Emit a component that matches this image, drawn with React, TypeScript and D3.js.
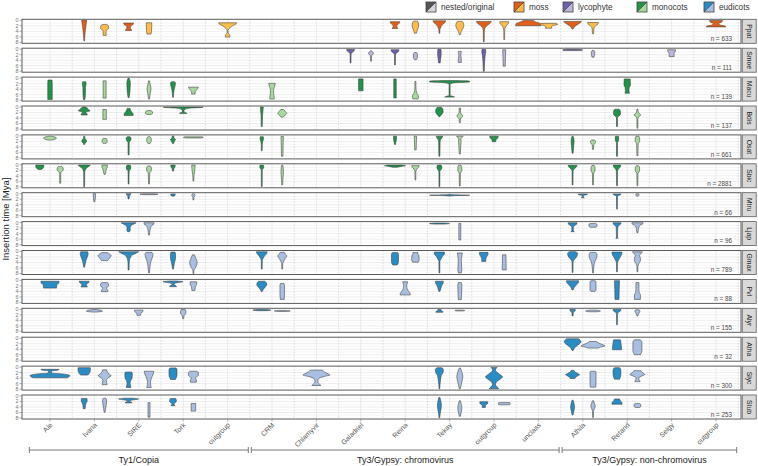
import React from "react";
import * as d3 from "d3";

// ---------- data ----------
const clades = ["Ale", "Ivana", "SIRE", "Tork", "out1", "CRM", "Chlamyvir", "Galadriel", "Reina", "Tekay", "out2", "unclass", "Athila", "Retand", "Selgy", "out3"];
const cladeLabels = ["Ale", "Ivana", "SIRE", "Tork", "outgroup", "CRM", "Chlamyvir", "Galadriel", "Reina", "Tekay", "outgroup", "unclass", "Athila", "Retand", "Selgy", "outgroup"];
const species = ["Ppat", "Smoe", "Macu", "Bdis", "Osat", "Sbic", "Mtru", "Ljap", "Gmax", "Pvl", "Alyr", "Atha", "Slyc", "Stub"];
const speciesGroup = ["moss", "lycophyte", "monocots", "monocots", "monocots", "monocots", "eudicots", "eudicots", "eudicots", "eudicots", "eudicots", "eudicots", "eudicots", "eudicots"];
const counts = [633, 111, 139, 137, 661, 2881, 66, 96, 789, 88, 155, 32, 300, 253];
const groups = ["moss", "lycophyte", "monocots", "eudicots"];
const darkColors = ["#e0601a", "#6f5fa8", "#23934a", "#2b8cc4"];
const lightColors = ["#fdbd4d", "#b9b8dc", "#a6d99c", "#a9bfe2"];
const superfamilies = ["Ty1/Copia", "Ty3/Gypsy: chromovirus", "Ty3/Gypsy: non-chromovirus"];
const superfamilyFrom = ["Ale", "CRM", "Athila"];
const superfamilyTo = ["out1", "unclass", "out3"];
const yTicks = [0, 2, 4, 6, 8];

// violins: [clade, n = nested / o = original, density profile as (insertion time, width) pairs]
type V = [string, string, number[]];
const ppat: V[] = [
  ["Ivana", "n", [0, 5, 2, 3.5, 5, 1.5, 7.5, 0.6]],
  ["Ivana", "o", [1.5, 4, 2, 7.5, 3, 8, 3.6, 4, 4, 3, 5.5, 3]],
  ["SIRE", "n", [1, 10, 1.5, 9, 2.2, 3.5, 3, 3.5, 3.4, 6, 3.7, 6]],
  ["SIRE", "o", [0.9, 5.5, 2, 5.5, 4, 5, 5, 4]],
  ["out1", "o", [0.9, 18, 1.3, 17, 2, 10, 3, 3, 3.8, 0.8, 4.6, 1, 5.4, 4.5, 6.1, 4.5]],
  ["Reina", "n", [0.5, 9.5, 1, 9, 1.6, 5, 2.2, 3.5, 2.7, 5, 3, 5.5]],
  ["Reina", "o", [0.3, 4, 1, 6, 2, 6.5, 3, 5, 4, 3, 4.7, 2]],
  ["Tekay", "n", [0.2, 13, 0.8, 11, 1.8, 5, 2.9, 2, 3.5, 1, 4.7, 0.8]],
  ["Tekay", "o", [0.4, 5, 1, 7, 2, 8, 3, 6, 4, 3, 5.3, 0.8]],
  ["out2", "n", [0.4, 15, 1, 13, 2, 6, 2.9, 2, 4, 1, 7.8, 0.8]],
  ["out2", "o", [0.5, 9, 1.2, 8, 2, 4, 2.9, 1.5, 4, 0.8, 7, 0.8]],
  ["unclass", "n", [0.1, 10, 0.5, 14, 1.2, 24, 1.8, 25, 2, 25]],
  ["unclass", "o", [1.1, 16, 1.5, 18, 1.9, 9, 2.3, 6, 2.9, 6]],
  ["Athila", "n", [0.4, 18, 0.8, 16, 1.5, 10, 2.3, 4, 3.2, 0.8]],
  ["Athila", "o", [0.8, 11, 1.3, 10, 2, 5, 2.8, 2, 3.5, 1.5, 4.9, 1.2]],
  ["out3", "n", [0.1, 13, 0.6, 12, 1.2, 5, 1.7, 8, 2.1, 18, 2.4, 20]],
];
const smoe: V[] = [
  ["Galadriel", "n", [0.1, 8, 0.6, 7, 1.2, 3, 1.8, 1, 5, 0.8]],
  ["Galadriel", "o", [0.6, 1, 1.5, 5, 2.4, 1.5, 3, 1, 4.4, 0.8]],
  ["Reina", "n", [0.2, 8, 0.8, 7, 1.5, 2.5, 2, 1, 5.7, 0.8]],
  ["Reina", "o", [1.2, 2, 1.8, 4, 3, 4, 3.8, 2]],
  ["Tekay", "n", [0, 3, 1, 3.5, 2, 3.5, 3.5, 2.5, 5, 1.5]],
  ["Tekay", "o", [0.8, 3, 2.5, 2, 3.5, 3, 4.8, 3]],
  ["out2", "n", [0, 3.5, 1, 4, 2, 3, 5, 1.5, 8, 1]],
  ["out2", "o", [0.2, 3, 3, 2.5, 6.2, 2]],
  ["Athila", "n", [0.05, 12, 0.25, 20, 0.5, 18]],
  ["Athila", "o", [0.5, 2, 1.5, 3.5, 2.9, 2]],
  ["Selgy", "o", [0.2, 8, 0.8, 7.5, 1.5, 5, 2.7, 5]],
];
const macu: V[] = [
  ["Ale", "n", [0.7, 4, 2, 4.5, 7.8, 4.5]],
  ["Ivana", "n", [1.3, 3, 2, 4, 3.5, 2.5, 5, 2.5, 7.8, 1.5]],
  ["Ivana", "o", [1, 3, 7.3, 3]],
  ["SIRE", "n", [0, 1, 1, 3, 2, 3.5, 4, 3, 6, 2, 7.1, 1]],
  ["SIRE", "o", [1, 1, 2.5, 2.5, 4, 4, 5.5, 2.5, 7.6, 1]],
  ["Tork", "n", [1.3, 3, 1.8, 5, 3, 4, 4.5, 2, 7, 0.8]],
  ["Tork", "o", [3.3, 10, 3.8, 9, 4.5, 5, 5, 3.5, 5.8, 3.5]],
  ["CRM", "o", [1.9, 6.5, 2.5, 6, 3.5, 4, 4.5, 3, 6, 3.5, 7, 4.5, 7.6, 4.5]],
  ["Galadriel", "n", [0.3, 4.5, 4.6, 4.5]],
  ["Reina", "n", [0.3, 2.5, 7.2, 2.5]],
  ["Reina", "o", [1.2, 1, 3, 1, 4.5, 1.5, 5.5, 3, 6.5, 6, 7, 6, 7.6, 5]],
  ["Tekay", "n", [0.9, 12, 1.1, 40, 1.4, 40, 1.7, 10, 2.2, 1, 6.3, 1, 6.6, 6, 6.9, 10]],
  ["Retand", "n", [0.3, 6, 2.5, 6.5, 3.5, 4, 4.5, 3.5, 5.5, 4.5]],
];
const bdis: V[] = [
  ["Ivana", "n", [0, 3, 0.5, 7, 1, 9, 1.4, 12, 1.8, 4, 2.2, 3, 2.5, 6, 2.9, 6]],
  ["Ivana", "o", [0.9, 3.5, 4.5, 3.5]],
  ["SIRE", "n", [0.5, 3, 1.2, 4, 2, 7, 2.5, 9, 3.1, 9]],
  ["SIRE", "o", [1.3, 3, 1.8, 7, 2.3, 7, 2.7, 4]],
  ["Tork", "n", [0, 40, 0.15, 38, 0.4, 14, 0.8, 4, 1.3, 1.5, 1.9, 2, 2.2, 7, 2.4, 7]],
  ["CRM", "n", [0, 3, 1, 2.5, 3, 1.5, 7.1, 1]],
  ["CRM", "o", [0.9, 3, 1.6, 6, 2.3, 9, 2.9, 6, 3.7, 2]],
  ["Tekay", "n", [0.1, 4, 0.8, 7, 1.8, 7.5, 2.6, 5, 3.5, 1]],
  ["Tekay", "o", [0.4, 1.5, 2, 1.5, 2.7, 4, 3.3, 6, 3.9, 3, 4.5, 1.2, 5.7, 1]],
  ["Retand", "n", [0.8, 4, 1.3, 6.5, 2.5, 7, 3.3, 4, 3.8, 1, 7.1, 1]],
  ["Retand", "o", [0.8, 1, 2, 2, 2.9, 6.5, 3.7, 2, 4.5, 1, 7.7, 1]],
];
const osat: V[] = [
  ["Ale", "o", [0.1, 4, 0.5, 11, 0.8, 13, 1.2, 10, 1.5, 4]],
  ["Ivana", "n", [0.1, 1, 1, 2, 1.6, 4.5, 2.2, 4.5, 2.7, 1.5, 3.1, 1]],
  ["Ivana", "o", [0.9, 3, 1.5, 5, 2.2, 5, 2.7, 3]],
  ["SIRE", "n", [0.3, 3, 0.9, 5, 1.7, 4, 2.4, 1.2, 6.9, 1]],
  ["SIRE", "o", [0.3, 2, 0.9, 4.5, 1.8, 4.5, 2.8, 2]],
  ["Tork", "n", [0, 1.5, 0.8, 2, 1.3, 5, 1.9, 3, 2.8, 1]],
  ["Tork", "o", [0.35, 18, 0.6, 20, 0.75, 14]],
  ["CRM", "n", [0.3, 3, 1, 3.5, 2, 2, 3, 1, 5.4, 0.8]],
  ["CRM", "o", [0.2, 2.5, 2, 2, 7.4, 1.5]],
  ["Reina", "n", [0.1, 3, 1, 3, 2, 2, 3.1, 1]],
  ["Reina", "o", [0.1, 2.5, 2, 2, 5.1, 1.5]],
  ["Tekay", "n", [0.1, 6.5, 0.6, 5.5, 1.2, 3, 1.8, 1.5, 7.4, 1]],
  ["Tekay", "o", [0.1, 6.5, 0.5, 5, 0.9, 2, 2, 2.5, 3.5, 2, 6.6, 1]],
  ["out2", "n", [0.1, 8.5, 0.7, 8, 1.3, 4.5, 2.1, 3.5]],
  ["Athila", "n", [0.1, 1, 1, 2.5, 2, 3, 4, 2, 6.3, 1]],
  ["Athila", "o", [1.5, 3, 2, 5, 2.8, 4, 3.2, 1.5, 4.9, 1]],
  ["Retand", "n", [0.1, 3, 0.8, 3.5, 1.8, 3, 2.5, 1, 7.4, 1]],
  ["Retand", "o", [0.1, 3, 1, 4.5, 2, 4.5, 2.8, 1.5, 7.2, 1]],
];
const sbic: V[] = [
  ["Ale", "n", [0.1, 8, 0.8, 8, 1.3, 6, 1.7, 3]],
  ["Ale", "o", [0.6, 3, 1.2, 6, 2, 6, 2.6, 2, 3.2, 1, 6.7, 1]],
  ["Ivana", "n", [0.1, 12, 0.5, 10, 1, 6, 1.9, 2, 3, 1, 8, 0.8]],
  ["Ivana", "o", [0.1, 5.5, 0.8, 5.5, 1.5, 3.5, 2.5, 2.5, 3.5, 1]],
  ["SIRE", "n", [0.1, 3, 0.8, 4.5, 1.6, 4, 2.2, 1, 7, 0.8]],
  ["SIRE", "o", [0.4, 2.5, 1.2, 5, 2.2, 4.5, 2.9, 1.5, 7, 0.8]],
  ["Tork", "n", [0.1, 4.5, 0.8, 4, 1.3, 2, 2.3, 1]],
  ["Tork", "o", [0.1, 3.5, 1.5, 3, 3, 2, 3.8, 1.2, 5.9, 0.8]],
  ["CRM", "n", [0.1, 3, 0.6, 4, 1.2, 3.5, 1.8, 1, 7.9, 0.8]],
  ["CRM", "o", [0.1, 1, 1, 2, 2.5, 2.5, 5, 1.5, 7.3, 1]],
  ["Reina", "n", [0.1, 14, 0.35, 21, 0.6, 12, 0.9, 4]],
  ["Reina", "o", [0.3, 7.5, 0.9, 6.5, 1.5, 3, 2.3, 1, 5.5, 0.8]],
  ["Tekay", "n", [0.1, 3.5, 0.8, 5, 1.6, 4, 2.3, 1, 8, 0.8]],
  ["Tekay", "o", [0.1, 2, 1, 4, 2.2, 4, 3, 1.2, 7.7, 0.8]],
  ["Athila", "n", [0.2, 9, 0.7, 8, 1.4, 4, 2.2, 1, 7.3, 0.8]],
  ["Athila", "o", [0.2, 2, 1, 4, 2.2, 4, 3, 1.2, 7.3, 0.8]],
  ["Retand", "n", [0.1, 7.5, 0.7, 7, 1.5, 3, 2.3, 1.2, 7.6, 0.8]],
  ["Retand", "o", [0.3, 2, 1.2, 4.5, 2.3, 4, 3.1, 1.2, 7.6, 0.8]],
];
const mtru: V[] = [
  ["Ivana", "o", [0, 2.5, 1.5, 2, 2.9, 1]],
  ["SIRE", "n", [0, 4.5, 0.4, 4, 0.8, 1.5, 1.9, 1]],
  ["SIRE", "o", [0.05, 10, 0.2, 18, 0.35, 10]],
  ["Tork", "n", [0.1, 4.5, 0.6, 4, 0.9, 2]],
  ["Tork", "o", [0, 1, 0.5, 3.5, 1, 2, 1.4, 1, 2.3, 0.8]],
  ["Tekay", "n", [0.25, 2, 0.4, 10, 0.55, 40, 0.7, 10, 0.85, 2]],
  ["Athila", "n", [0.1, 9, 0.3, 9, 0.6, 2, 1.2, 1, 1.5, 3]],
  ["Retand", "n", [0.1, 8, 0.35, 7, 0.7, 2, 1.2, 1, 5.6, 0.8]],
  ["Retand", "o", [0.05, 2, 0.4, 3.5, 0.9, 1.5]],
];
const ljap: V[] = [
  ["SIRE", "n", [0.05, 15, 0.3, 13, 0.8, 7, 1.3, 4, 2, 3, 2.7, 3.5, 3.3, 2]],
  ["SIRE", "o", [0.05, 10, 0.5, 10, 1, 6, 2, 3, 2.7, 2, 4.5, 1]],
  ["Tekay", "n", [0.15, 10, 0.35, 20, 0.55, 10]],
  ["Tekay", "o", [0.3, 2, 6.3, 2]],
  ["Athila", "n", [0.05, 9, 0.6, 8, 1.2, 3, 1.7, 1.5, 3, 1.5, 3.3, 3.5]],
  ["Athila", "o", [0.3, 5, 0.6, 8, 1.3, 8, 1.7, 5]],
  ["Retand", "n", [0.05, 8, 0.6, 7, 1.2, 3, 1.8, 1.5, 5.3, 1, 5.7, 2.5]],
  ["Retand", "o", [0.05, 11, 0.4, 11, 0.9, 6, 1.6, 3, 2.5, 2, 3.7, 1]],
];
const gmax: V[] = [
  ["Ivana", "n", [0.1, 7, 0.8, 8, 1.6, 7, 3, 4, 4.5, 2, 5.7, 0.8]],
  ["Ivana", "o", [0.4, 5, 0.9, 10, 1.5, 13, 2.2, 11, 2.8, 8, 3.3, 6]],
  ["SIRE", "n", [0.1, 20, 0.5, 16, 1.2, 8, 2, 4, 3, 2, 4, 1.2, 6.7, 1]],
  ["SIRE", "o", [0.3, 6, 1, 8, 2, 7, 3.5, 4, 5.5, 2, 7.8, 0.8]],
  ["Tork", "n", [0.2, 4, 1, 5, 2.5, 5, 4, 3, 5.5, 1.5, 6.4, 0.8]],
  ["Tork", "o", [1.2, 2, 2.5, 5, 4, 7.5, 5.2, 6, 6.2, 3, 6.8, 1, 8, 0.8]],
  ["CRM", "n", [0.1, 11, 0.6, 10, 1.5, 6, 2.5, 2.5, 3.3, 1, 6.4, 0.8]],
  ["CRM", "o", [0.3, 4, 0.9, 6, 1.6, 9, 2.5, 6, 3.5, 3, 4.5, 1, 6.4, 0.8]],
  ["Reina", "n", [0.4, 5, 1, 7, 3.5, 7, 4.5, 6, 4.9, 4]],
  ["Reina", "o", [0.4, 5, 0.9, 5, 1.5, 7, 3, 7.5, 3.9, 5.5]],
  ["Tekay", "n", [0.2, 10, 0.9, 10, 1.8, 6, 2.8, 3, 3.6, 1, 7.8, 0.8]],
  ["Tekay", "o", [0.5, 5, 1.2, 4.5, 3, 3, 5, 3.5, 6.5, 4, 7.8, 3]],
  ["out2", "n", [0.3, 8.5, 1, 8.5, 2, 5.5, 3, 4, 3.6, 4]],
  ["out2", "o", [1.2, 3.5, 6.7, 4]],
  ["Athila", "n", [0.05, 6, 0.6, 10, 1.6, 9, 2.6, 5, 3.4, 1.5, 4, 1, 7.6, 0.8]],
  ["Athila", "o", [0.3, 5, 1.2, 8, 2.2, 7.5, 3.5, 4, 5, 2, 7.8, 0.8]],
  ["Retand", "n", [0.2, 10, 1, 9.5, 2, 6.5, 3, 3.5, 4.2, 1, 7.4, 0.8]],
  ["Retand", "o", [0.1, 10, 0.6, 8, 1.5, 4, 2.4, 6, 3.3, 6, 4.4, 3, 5.5, 1, 7.4, 0.8]],
];
const pvl: V[] = [
  ["Ale", "n", [0.3, 18, 0.9, 18, 1.4, 14, 2.8, 13]],
  ["Ivana", "n", [0.3, 10, 0.8, 9, 1.5, 4.5, 2, 5, 2.4, 6.5]],
  ["Ivana", "o", [0.8, 5, 1.3, 8, 2, 8, 2.5, 4.5, 3, 4, 3.6, 6.5, 4.1, 6.5]],
  ["Tork", "n", [0.2, 6, 0.45, 20, 0.7, 14, 1, 4, 1.6, 2, 2, 6, 2.3, 7]],
  ["Tork", "o", [0.5, 6.5, 1.5, 6.5, 2.2, 4, 3, 3.5, 3.7, 3]],
  ["CRM", "n", [0.3, 6, 0.8, 9, 1.6, 10, 2.4, 7, 3.3, 3, 4.1, 0.8]],
  ["CRM", "o", [1.1, 3.5, 1.8, 4.5, 5, 4.5, 6.9, 4]],
  ["Reina", "o", [0.5, 5, 1, 4, 2, 3, 3, 4, 4, 7, 4.9, 10, 5.3, 10]],
  ["Tekay", "n", [0.3, 8, 1, 7.5, 1.8, 5, 2.8, 3, 3.5, 2, 4, 1]],
  ["Tekay", "o", [0.8, 3, 2, 4, 5, 3.5, 7, 3]],
  ["Athila", "n", [0.1, 12, 0.7, 12, 1.5, 8, 2.5, 3.5, 3.5, 1]],
  ["Athila", "o", [0.1, 4, 0.5, 6, 3.5, 6, 4, 4]],
  ["Retand", "n", [0.1, 5, 3, 4.5, 6.9, 4]],
  ["Retand", "o", [0.8, 3, 3, 3, 4.4, 3.5, 5.2, 6, 6.9, 6]],
];
const alyr: V[] = [
  ["Ivana", "o", [0.1, 4, 0.4, 14, 0.7, 16, 1, 4]],
  ["SIRE", "o", [0.3, 8.5, 0.9, 8, 1.4, 4, 2.2, 3.5]],
  ["Tork", "o", [0.1, 4, 0.8, 5.5, 1.6, 5, 2.2, 2, 3.4, 1]],
  ["CRM", "n", [0.1, 10, 0.3, 18, 0.5, 8]],
  ["CRM", "o", [0.4, 8, 0.6, 16, 0.8, 8]],
  ["Tekay", "n", [0.05, 3, 0.5, 4, 0.9, 7, 1.1, 7]],
  ["Tekay", "o", [0.3, 6, 0.45, 10, 0.6, 6]],
  ["Athila", "n", [0.1, 5.5, 0.6, 5, 1, 1.5, 2.4, 1]],
  ["Athila", "o", [0.3, 6, 0.6, 15, 0.9, 8]],
  ["Retand", "n", [0.05, 8, 0.6, 7, 1.2, 2, 2, 1, 5.6, 0.8]],
  ["Retand", "o", [0.2, 3.5, 0.8, 5, 1.4, 3, 2.4, 1]],
];
const atha: V[] = [
  ["Athila", "n", [0.2, 12, 0.7, 15, 1.3, 17, 2, 14, 3, 7, 3.8, 3, 4.5, 1]],
  ["Athila", "o", [1.2, 7, 1.8, 12, 2.4, 20, 2.8, 24, 3.2, 16, 3.6, 10]],
  ["Retand", "n", [0.6, 7, 2, 8, 3.5, 9, 4.2, 9]],
  ["Retand", "o", [0.6, 6, 1.5, 9, 4.5, 9, 6, 6]],
];
const slyc: V[] = [
  ["Ale", "n", [0.8, 18, 1.1, 16, 1.4, 3, 2.1, 3, 2.5, 26, 3.1, 40, 3.5, 38, 3.9, 34]],
  ["Ivana", "n", [0.2, 12, 1, 12.5, 2, 11, 2.6, 9, 2.9, 6]],
  ["Ivana", "o", [1, 4, 1.6, 5, 2.4, 8, 3.1, 13, 3.8, 8, 4.8, 3.5, 5.6, 4, 6.4, 5]],
  ["SIRE", "n", [1.8, 6.5, 2.5, 7.5, 4, 7, 5, 4, 6, 3, 6.8, 4, 7.4, 4.5]],
  ["SIRE", "o", [1.5, 9.5, 2.2, 9, 3.5, 6, 4.5, 4, 5.7, 3, 6.7, 3.5, 7.4, 4.5]],
  ["Tork", "n", [0.3, 6, 0.9, 8, 2.5, 8, 3.5, 7.5, 4, 6, 4.5, 5]],
  ["Tork", "o", [1.5, 6, 2, 10, 3, 10, 3.6, 6, 4.1, 4, 4.6, 6, 5.5, 6]],
  ["Chlamyvir", "o", [1.1, 12, 1.8, 16, 2.5, 24, 2.9, 27, 3.3, 18, 4, 6, 4.9, 3, 5.5, 3, 6.1, 6, 6.7, 9]],
  ["Tekay", "n", [0.2, 5, 0.9, 8, 1.9, 7.5, 3, 4, 5, 2, 7.9, 0.8]],
  ["Tekay", "o", [0.3, 1, 1.5, 3.5, 3.5, 6, 5.5, 4, 7.9, 1]],
  ["out2", "n", [0.1, 6.5, 0.5, 4, 1.2, 3, 2, 7, 3, 14, 3.6, 17, 4.4, 12, 5.4, 5, 6.3, 3, 7, 5, 7.5, 8, 7.9, 10]],
  ["Athila", "n", [1.2, 3, 1.8, 5, 2.4, 11, 2.8, 14, 3.2, 10, 3.7, 6, 4.1, 5]],
  ["Athila", "o", [1.5, 5, 2, 6, 6.5, 6, 7.3, 5]],
  ["Retand", "n", [0.2, 5, 0.8, 7.5, 2, 8, 3.5, 7, 4.4, 5]],
  ["Retand", "o", [1.3, 7, 2, 10, 2.7, 15, 3.2, 9, 3.8, 3, 4.5, 3, 5, 5, 5.3, 5]],
];
const stub: V[] = [
  ["Ivana", "n", [0.9, 5.5, 1.8, 6, 2.5, 4, 3.5, 2.5, 4.6, 2]],
  ["Ivana", "o", [0.8, 2.5, 1.5, 4, 3, 3.5, 4.5, 2, 5.9, 1]],
  ["SIRE", "n", [0.8, 8, 1.1, 20, 1.4, 10, 1.8, 2, 2.2, 5, 2.5, 7]],
  ["SIRE", "o", [2.4, 2, 7.7, 2]],
  ["Tork", "n", [0.9, 5, 1.6, 7, 2.3, 5.5, 2.9, 2, 3.5, 4]],
  ["Tork", "o", [2.7, 4.5, 5.5, 4.5]],
  ["Tekay", "n", [0.5, 1, 2, 3, 3.5, 4, 5, 3, 6.5, 1.5, 7.9, 0.8]],
  ["Tekay", "o", [1.7, 1, 3, 3, 4.2, 4, 5.8, 3, 7.4, 1]],
  ["out2", "n", [2.1, 8, 2.6, 8, 3.3, 3.5, 4.2, 3]],
  ["out2", "o", [2.4, 11, 2.8, 12, 3.2, 11]],
  ["Athila", "n", [1.5, 1, 2.8, 3, 4, 4, 5.5, 2.5, 6.9, 0.8]],
  ["Athila", "o", [1.7, 1, 2.8, 3, 3.6, 4.5, 4.5, 3, 5.5, 1, 7.8, 0.8]],
  ["Retand", "n", [1.1, 5, 1.8, 7, 2.4, 10, 3, 10]],
  ["Retand", "o", [2.7, 4, 3, 6.5, 3.9, 6.5, 4.2, 4]],
];
const violinsBySpecies: V[][] = [ppat, smoe, macu, bdis, osat, sbic, mtru, ljap, gmax, pvl, alyr, atha, slyc, stub];

// ---------- layout ----------
const W = 758, H = 466;
const panelLeft = 22, panelRight = 741;
const firstTop = 19.3, panelH = 24, pitch = 28.9;
const FONT = "'Liberation Sans', Arial, Helvetica, sans-serif";

export default function App() {
  const x = d3.scalePoint<string>().domain(clades).range([50, 716]);
  const step = x.step();
  const wScale = d3.scaleLinear().domain([0, 44.4]).range([0, step]);
  const dodge = step * 0.23;
  const lastBottom = firstTop + (species.length - 1) * pitch + panelH;

  const panels = species.map((sp, i) => {
    const top = firstTop + i * pitch;
    const bottom = top + panelH;
    const y = d3.scaleLinear().domain([0, 8]).range([top + 1, bottom - 1]);
    const gi = groups.indexOf(speciesGroup[i]);
    const vs = violinsBySpecies[i];
    const grid: React.ReactNode[] = [];
    for (let v = 1; v < 8; v++) {
      grid.push(<line key={"h" + v} x1={panelLeft} x2={panelRight} y1={y(v)} y2={y(v)} stroke={v % 2 === 0 ? "#e0e0e0" : "#efefef"} strokeWidth={0.6} />);
    }
    clades.forEach((c, ci) => {
      grid.push(<line key={"vc" + ci} x1={x(c)!} x2={x(c)!} y1={top} y2={bottom} stroke="#e4e4e4" strokeWidth={0.7} />);
      const b = x(c)! + step / 2;
      if (b < panelRight) grid.push(<line key={"vb" + ci} x1={b} x2={b} y1={top} y2={bottom} stroke="#c4c4c4" strokeWidth={0.6} strokeDasharray="1.5,1.5" />);
    });
    const marks = vs.map((v, k) => {
      const [clade, t, prof] = v;
      const both = vs.some((o) => o[0] === clade && o[1] !== t);
      const cx = x(clade)! + (both ? (t === "n" ? -dodge : dodge) : 0);
      const pts: [number, number][] = [];
      for (let j = 0; j < prof.length; j += 2) pts.push([prof[j], prof[j + 1]]);
      const area = d3
        .area<[number, number]>()
        .y((d) => y(d[0]))
        .x0((d) => cx - wScale(d[1]) / 2)
        .x1((d) => cx + wScale(d[1]) / 2)
        .curve(d3.curveMonotoneY);
      return (
        <path key={"v" + k} d={area(pts) || ""} fill={t === "n" ? darkColors[gi] : lightColors[gi]} stroke="#3a3a3a" strokeWidth={0.55} strokeLinejoin="round" />
      );
    });
    return (
      <g key={sp}>
        <rect x={panelLeft} y={top} width={panelRight - panelLeft} height={panelH} fill="#fff" />
        {grid}
        {marks}
        <rect x={panelLeft} y={top} width={panelRight - panelLeft} height={panelH} fill="none" stroke="#5a5a5a" strokeWidth={1} />
        {yTicks.map((tv) => (
          <g key={"yt" + tv}>
            <line x1={panelLeft - 2.5} x2={panelLeft} y1={y(tv)} y2={y(tv)} stroke="#777" strokeWidth={0.6} />
            <text x={panelLeft - 3.5} y={y(tv) + 1.9} fontSize={5.4} fill="#777" textAnchor="end" fontFamily={FONT}>{tv}</text>
          </g>
        ))}
        <text x={732} y={bottom - 2.2} fontSize={6.3} fill="#4a4a4a" textAnchor="end" fontFamily={FONT}>{"n = " + counts[i]}</text>
        <rect x={panelRight + 1.2} y={top} width={14} height={panelH} fill="#d9d9d9" stroke="#5a5a5a" strokeWidth={0.8} />
        <text transform={`translate(${panelRight + 8.2},${top + panelH / 2}) rotate(90)`} fontSize={6.8} fill="#222" textAnchor="middle" dominantBaseline="central" fontFamily={FONT}>{sp}</text>
      </g>
    );
  });

  // legend
  const legendItems = ["nested/original", ...groups];
  const legendX = [426, 514, 563, 637, 704];
  const legendDark = ["#555555", ...darkColors];
  const legendLight = ["#d4d4d4", ...lightColors];

  const bracketY = 450;
  return (
    <svg width={W} height={H} style={{ display: "block", position: "absolute", left: 0, top: 0 }}>
      <rect width={W} height={H} fill="#fff" />
      {legendItems.map((lab, i) => (
        <g key={lab} transform={`translate(${legendX[i]},2)`}>
          <polygon points="0,0 10,0 0,10" fill={legendDark[i]} />
          <polygon points="10,0 10,10 0,10" fill={legendLight[i]} />
          <line x1={0} y1={10} x2={10} y2={0} stroke="#333" strokeWidth={0.7} />
          <rect x={0} y={0} width={10} height={10} fill="none" stroke="#444" strokeWidth={0.8} />
          <text x={15} y={8.3} fontSize={8.2} fill="#333" fontFamily={FONT}>{lab}</text>
        </g>
      ))}
      {panels}
      {clades.map((c, ci) => (
        <g key={"xt" + c}>
          <line x1={x(c)!} x2={x(c)!} y1={lastBottom} y2={lastBottom + 2.5} stroke="#777" strokeWidth={0.6} />
          <text transform={`translate(${x(c)! + 3},${lastBottom + 6.5}) rotate(-45)`} fontSize={7} fill="#555" textAnchor="end" fontFamily={FONT}>{cladeLabels[ci]}</text>
        </g>
      ))}
      {superfamilies.map((sf, i) => {
        const x1 = x(superfamilyFrom[i])! - step / 2 + 1.5;
        const x2 = x(superfamilyTo[i])! + step / 2 - 1.5;
        return (
          <g key={sf}>
            <line x1={x1} x2={x2} y1={bracketY} y2={bracketY} stroke="#777" strokeWidth={1} />
            <line x1={x1} x2={x1} y1={bracketY - 3} y2={bracketY + 3} stroke="#777" strokeWidth={1} />
            <line x1={x2} x2={x2} y1={bracketY - 3} y2={bracketY + 3} stroke="#777" strokeWidth={1} />
            <text x={(x1 + x2) / 2} y={bracketY + 13} fontSize={9} fill="#222" textAnchor="middle" fontFamily={FONT}>{sf}</text>
          </g>
        );
      })}
      <text transform={`translate(9,${(firstTop + lastBottom) / 2}) rotate(-90)`} fontSize={9.5} fill="#222" textAnchor="middle" fontFamily={FONT}>Insertion time [Mya]</text>
    </svg>
  );
}
